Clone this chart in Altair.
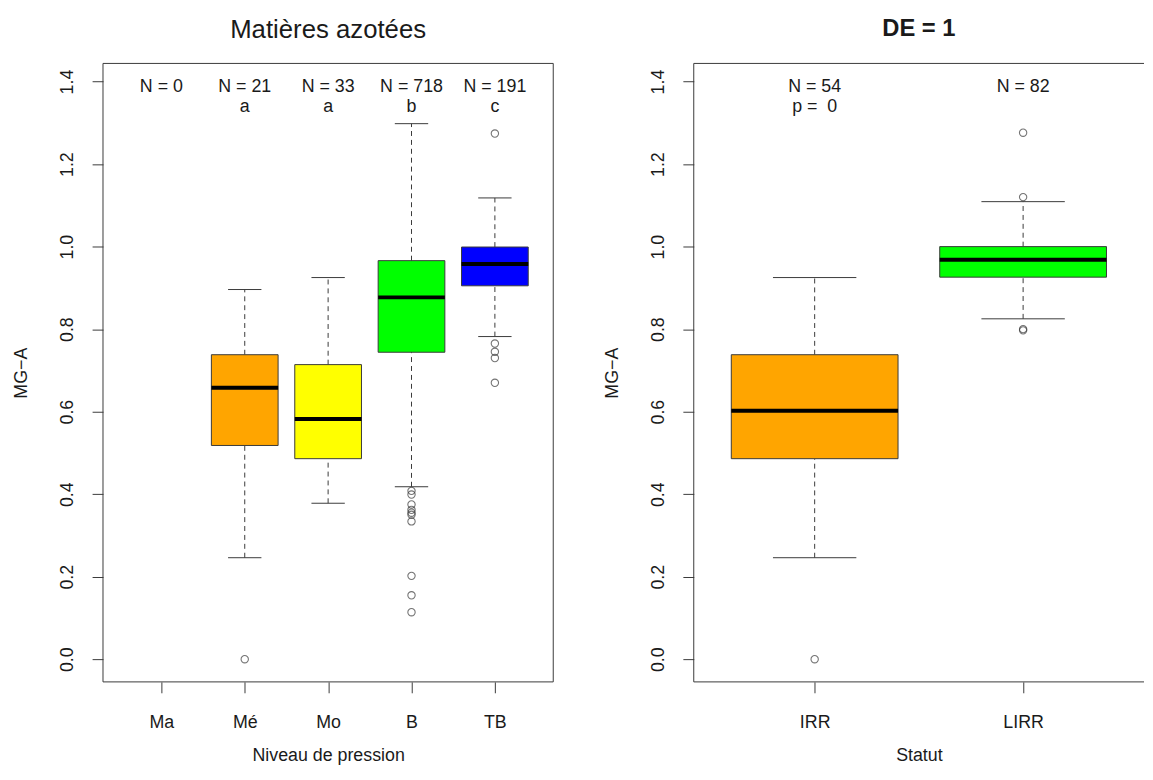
import altair as alt
import pandas as pd

FONT = "Liberation Sans"
INK = "#1a1a1a"
LINE = "#3a3a3a"

# ---------------- shared y axis ----------------
Y_DOMAIN = [-0.055, 1.444]
Y_TICKS = [0.0, 0.2, 0.4, 0.6, 0.8, 1.0, 1.2, 1.4]
Y_TITLE = "MG−A"
PLOT_H = 625

# ---------------- left panel: Niveau de pression ----------------
left_title = "Matières azotées"
left_xtitle = "Niveau de pression"
left_cats = ["Ma", "Mé", "Mo", "B", "TB"]
left_n = ["N = 0", "N = 21", "N = 33", "N = 718", "N = 191"]
left_sub = ["", "a", "a", "b", "c"]
left_colors = [None, "#FFA500", "#FFFF00", "#00FF00", "#0000FF"]
left_lo = [None, 0.246, 0.378, 0.418, 0.782]
left_q1 = [None, 0.518, 0.486, 0.744, 0.905]
left_med = [None, 0.658, 0.582, 0.877, 0.958]
left_q3 = [None, 0.738, 0.714, 0.966, 0.999]
left_hi = [None, 0.896, 0.925, 1.298, 1.118]
left_out_cat = ["Mé",
                "B", "B", "B", "B", "B", "B", "B", "B", "B", "B",
                "TB", "TB", "TB", "TB", "TB"]
left_out_val = [0.0,
                0.408, 0.399, 0.375, 0.362, 0.355, 0.350, 0.334, 0.202, 0.155, 0.114,
                1.274, 0.765, 0.745, 0.730, 0.670]
left_xdomain = [0.3, 5.7]

# ---------------- right panel: Statut ----------------
right_title = "DE = 1"
right_xtitle = "Statut"
right_cats = ["IRR", "LIRR"]
right_n = ["N = 54", "N = 82"]
right_sub = ["p =\u00a0 0", ""]
right_colors = ["#FFA500", "#00FF00"]
right_lo = [0.246, 0.825]
right_q1 = [0.486, 0.926]
right_med = [0.602, 0.968]
right_q3 = [0.738, 1.000]
right_hi = [0.925, 1.109]
right_out_cat = ["IRR", "LIRR", "LIRR", "LIRR", "LIRR"]
right_out_val = [0.0, 1.276, 1.120, 0.800, 0.797]
right_xdomain = [0.42, 2.58]


def make_panel(cats, n_labels, sub_labels, colors, lo, q1, med, q3, hi,
               out_cat, out_val, xdomain, width, title, tsize, tweight,
               toffset, xtitle, right_border):
    pos = {c: i + 1 for i, c in enumerate(cats)}
    rows = []
    for i, c in enumerate(cats):
        if q1[i] is None:
            continue
        rows.append({"cat": c, "pos": pos[c], "lo": lo[i], "q1": q1[i],
                     "med": med[i], "q3": q3[i], "hi": hi[i]})
    box_df = pd.DataFrame(rows)
    col_dom = [r["cat"] for r in rows]
    col_rng = [colors[cats.index(c)] for c in col_dom]

    out_df = pd.DataFrame({"cat": out_cat, "val": out_val})
    out_df["pos"] = out_df["cat"].map(pos)

    lab_df = pd.DataFrame({"cat": cats, "pos": [pos[c] for c in cats],
                           "n": n_labels, "sub": sub_labels})

    label_expr = "[" + ",".join("'" + c + "'" for c in cats) + "][datum.value - 1]"
    xscale = alt.Scale(domain=xdomain, nice=False, zero=False)
    yscale = alt.Scale(domain=Y_DOMAIN, nice=False, zero=False)
    xaxis = alt.Axis(values=list(pos.values()), labelExpr=label_expr,
                     title=xtitle, tickSize=11, labelPadding=21,
                     titlePadding=15, domain=False, grid=False,
                     tickColor=LINE, labelAngle=0)
    yaxis = alt.Axis(values=Y_TICKS, format=".1f", labelAngle=-90,
                     title=Y_TITLE, tickSize=11, labelPadding=16,
                     titlePadding=28, domain=False, grid=False,
                     tickColor=LINE)

    def X(field):
        return alt.X(field, type="quantitative", scale=xscale, axis=xaxis, title=xtitle)

    def Y(field):
        return alt.Y(field, type="quantitative", scale=yscale, axis=yaxis, title=Y_TITLE)

    base = alt.Chart(box_df).transform_calculate(
        xl="datum.pos - 0.4", xr="datum.pos + 0.4",
        cl="datum.pos - 0.2", cr="datum.pos + 0.2")

    whisk_up = base.mark_rule(color=LINE, strokeDash=[5, 4], strokeWidth=1).encode(
        x=X("pos"), y=Y("q3"), y2="hi")
    whisk_dn = base.mark_rule(color=LINE, strokeDash=[5, 4], strokeWidth=1).encode(
        x=X("pos"), y=Y("lo"), y2="q1")
    box = base.mark_rect(stroke=LINE, strokeWidth=1).encode(
        x=X("xl:Q"), x2="xr:Q", y=Y("q1"), y2="q3",
        fill=alt.Fill("cat:N", scale=alt.Scale(domain=col_dom, range=col_rng), legend=None))
    median = base.mark_rule(color="#000000", strokeWidth=4).encode(
        x=X("xl:Q"), x2="xr:Q", y=Y("med"))
    cap_hi = base.mark_rule(color=LINE, strokeWidth=1).encode(
        x=X("cl:Q"), x2="cr:Q", y=Y("hi"))
    cap_lo = base.mark_rule(color=LINE, strokeWidth=1).encode(
        x=X("cl:Q"), x2="cr:Q", y=Y("lo"))
    outl = alt.Chart(out_df).mark_point(shape="circle", filled=False, size=55,
                                        stroke=LINE, strokeWidth=1.1).encode(
        x=X("pos"), y=Y("val"))
    txt_n = alt.Chart(lab_df).mark_text(font=FONT, fontSize=18, color=INK,
                                        baseline="middle").encode(
        x=X("pos"), y=alt.value(24), text="n:N")
    txt_s = alt.Chart(lab_df).mark_text(font=FONT, fontSize=18, color=INK,
                                        baseline="middle").encode(
        x=X("pos"), y=alt.value(44), text="sub:N")

    fr = alt.Chart(pd.DataFrame({"k": [0]})).mark_rule(color=LINE, strokeWidth=1)
    frames = [
        fr.encode(x=alt.value(0), x2=alt.value(width), y=alt.value(0)),
        fr.encode(x=alt.value(0), x2=alt.value(width), y=alt.value(PLOT_H)),
        fr.encode(x=alt.value(0), y=alt.value(0), y2=alt.value(PLOT_H)),
    ]
    if right_border:
        frames.append(fr.encode(x=alt.value(width), y=alt.value(0), y2=alt.value(PLOT_H)))

    layers = [whisk_up, whisk_dn, box, median, cap_hi, cap_lo, outl, txt_n, txt_s] + frames
    return alt.layer(*layers).properties(
        width=width, height=PLOT_H,
        title=alt.TitleParams(text=title, fontSize=tsize, fontWeight=tweight,
                              font=FONT, color=INK, offset=toffset,
                              anchor="middle", frame="group"))


left = make_panel(left_cats, left_n, left_sub, left_colors, left_lo, left_q1,
                  left_med, left_q3, left_hi, left_out_cat, left_out_val,
                  left_xdomain, 455, left_title, 26, "normal", 20,
                  left_xtitle, True)
right = make_panel(right_cats, right_n, right_sub, right_colors, right_lo,
                   right_q1, right_med, right_q3, right_hi, right_out_cat,
                   right_out_val, right_xdomain, 455, right_title, 24, "bold",
                   22, right_xtitle, False)

chart = alt.hconcat(left, right, spacing=50).resolve_scale(
    fill="independent"
).properties(
    padding={"left": 5, "top": 5, "right": 0, "bottom": 0}
).configure_view(stroke=None).configure_axis(
    labelFont=FONT, titleFont=FONT, labelFontSize=18, titleFontSize=18,
    labelColor=INK, titleColor=INK, titleFontWeight="normal"
)

chart.save("out.html", embed_options={"renderer": "svg", "actions": False})
